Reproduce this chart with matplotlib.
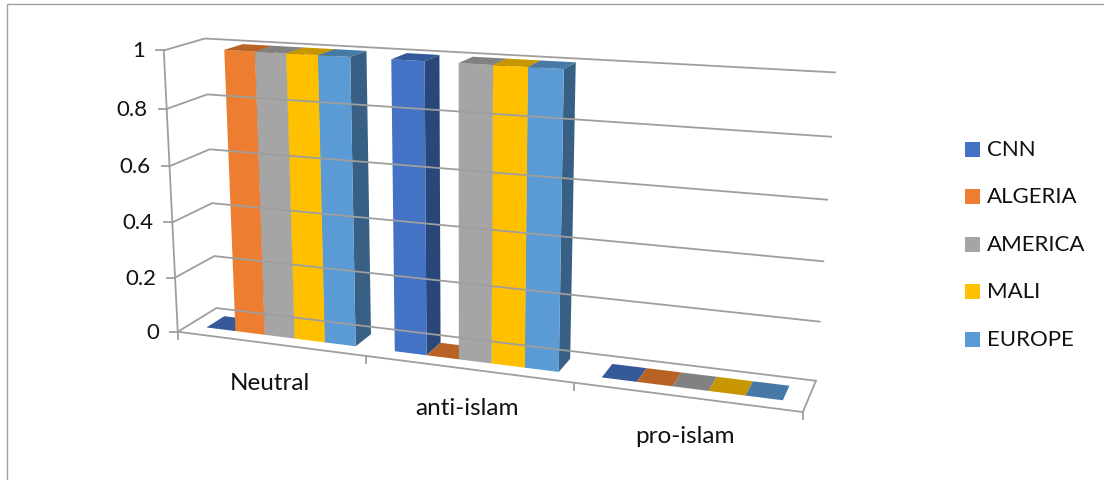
import numpy as np
import matplotlib.pyplot as plt
from matplotlib.patches import Polygon, Rectangle
from matplotlib.colors import to_rgb

categories = ['Neutral', 'anti-islam', 'pro-islam']
series_names = ['CNN', 'ALGERIA', 'AMERICA', 'MALI', 'EUROPE']
cnn = [0, 1, 0]
algeria = [1, 0, 0]
america = [1, 1, 0]
mali = [1, 1, 0]
europe = [1, 1, 0]
y_ticks = [0, 0.2, 0.4, 0.6, 0.8, 1]
y_tick_labels = ['0', '0.2', '0.4', '0.6', '0.8', '1']

colors = ['#4472C4', '#ED7D31', '#A5A5A5', '#FFC000', '#5B9BD5']
grid_color = '#9E9E9E'
FONT = 'Lato'

# plot box corners in world units (category, value, depth) and where they sit on screen (px)
box_world = np.array([
    [0, 0, 0], [0, 1, 0], [0, 0, 1], [0, 1, 1],
    [3, 1, 1], [3, 0, 1], [3, 0, 0], [1, 0, 0], [2, 0, 0],
    [0, 0.2, 1], [0, 0.4, 1], [0, 0.6, 1], [0, 0.8, 1],
    [3, 0.2, 1], [3, 0.4, 1], [3, 0.6, 1], [3, 0.8, 1],
], dtype=float)
box_screen = np.array([
    [180, 332], [162, 50], [216, 309], [207, 40],
    [835, 73], [817, 380], [802, 413], [367, 357], [573, 386],
    [212, 257], [211, 203], [210, 152], [208, 96],
    [820, 323], [823, 262], [827, 201], [831, 138],
], dtype=float)


def normalize(pts):
    m = pts.mean(axis=0)
    d = np.sqrt(((pts - m) ** 2).sum(axis=1)).mean()
    s = np.sqrt(pts.shape[1]) / d
    n = pts.shape[1]
    T = np.eye(n + 1)
    T[:n, :n] *= s
    T[:n, n] = -s * m
    return T


def solve_camera(world, screen):
    # direct linear transform for a 3x4 perspective camera
    U = normalize(world)
    T = normalize(screen)
    w = (U @ np.c_[world, np.ones(len(world))].T).T
    s = (T @ np.c_[screen, np.ones(len(screen))].T).T
    rows = []
    for (X, Y, Z, W), (u, v, _) in zip(w, s):
        rows.append([X, Y, Z, W, 0, 0, 0, 0, -u * X, -u * Y, -u * Z, -u * W])
        rows.append([0, 0, 0, 0, X, Y, Z, W, -v * X, -v * Y, -v * Z, -v * W])
    _, _, vt = np.linalg.svd(np.array(rows))
    Pn = vt[-1].reshape(3, 4)
    return np.linalg.inv(T) @ Pn @ U


P = solve_camera(box_world, box_screen)


def proj(x, y, z):
    h = P @ np.array([x, y, z, 1.0])
    return h[0] / h[2], h[1] / h[2]


def shade(c, f):
    return tuple(np.array(to_rgb(c)) * f)


fig = plt.figure(figsize=(11.04, 4.81), dpi=100)
ax = fig.add_axes([0, 0, 1, 1])
ax.set_xlim(0, 1104)
ax.set_ylim(481, 0)
ax.axis('off')

# outer border
ax.add_patch(Rectangle((7, 5), 1200, 600, fill=False, edgecolor='#A0A0A0', lw=1.0))

n_cat = len(categories)
lw = 1.3

# walls: gridlines on the left wall and the back wall
for v in y_ticks:
    pts = [proj(0, v, 0), proj(0, v, 1), proj(n_cat, v, 1)]
    ax.plot([p[0] for p in pts], [p[1] for p in pts], color=grid_color, lw=lw,
            solid_joinstyle='miter')

# value axis edge, ticks and labels
a, b = proj(0, 0, 0), proj(0, 1, 0)
ax.plot([a[0], b[0]], [a[1], b[1]], color=grid_color, lw=lw)
for v, lab in zip(y_ticks, y_tick_labels):
    px, py = proj(0, v, 0)
    ax.plot([px - 8, px], [py, py], color=grid_color, lw=lw)
    ax.text(px - 19, py, lab, ha='right', va='center', fontsize=16, family=FONT,
            color='#111111')

# floor outline
floor = [proj(0, 0, 0), proj(n_cat, 0, 0), proj(n_cat, 0, 1)]
ax.plot([p[0] for p in floor], [p[1] for p in floor], color=grid_color, lw=lw,
        solid_joinstyle='miter')

# category ticks and labels
for i in range(n_cat + 1):
    px, py = proj(i, 0, 0)
    ax.plot([px, px], [py, py + 7], color=grid_color, lw=lw)
for i, cat in enumerate(categories):
    px, py = proj(i + 0.5, 0, 0)
    ax.text(px, py + 39, cat, ha='center', va='center', fontsize=17.5, family=FONT,
            color='#111111')

# bars, painted left to right
values = [cnn, algeria, america, mali, europe]
gap = 0.1
bw = (1 - 2 * gap) / len(series_names)
z0, z1 = 0.27, 0.74
for i in range(n_cat):
    for k, (vals, c) in enumerate(zip(values, colors)):
        x0 = i + gap + k * bw
        x1 = x0 + bw
        v = vals[i]
        top = [proj(x0, v, z0), proj(x1, v, z0), proj(x1, v, z1), proj(x0, v, z1)]
        if v > 0:
            side = [proj(x1, 0, z0), proj(x1, 0, z1), proj(x1, v, z1), proj(x1, v, z0)]
            front = [proj(x0, 0, z0), proj(x1, 0, z0), proj(x1, v, z0), proj(x0, v, z0)]
            ax.add_patch(Polygon(side, closed=True, facecolor=shade(c, 0.62), edgecolor='none'))
            ax.add_patch(Polygon(front, closed=True, facecolor=c, edgecolor='none'))
        ax.add_patch(Polygon(top, closed=True, facecolor=shade(c, 0.78), edgecolor='none'))

# legend
for k, (name, c) in enumerate(zip(series_names, colors)):
    ly = 150 + k * 47.5
    ax.add_patch(Rectangle((965, ly - 7.5), 15, 15, facecolor=c, edgecolor='none'))
    ax.text(987, ly, name, ha='left', va='center', fontsize=16, family=FONT,
            color='#111111')

fig.savefig('out.png', dpi=100)
